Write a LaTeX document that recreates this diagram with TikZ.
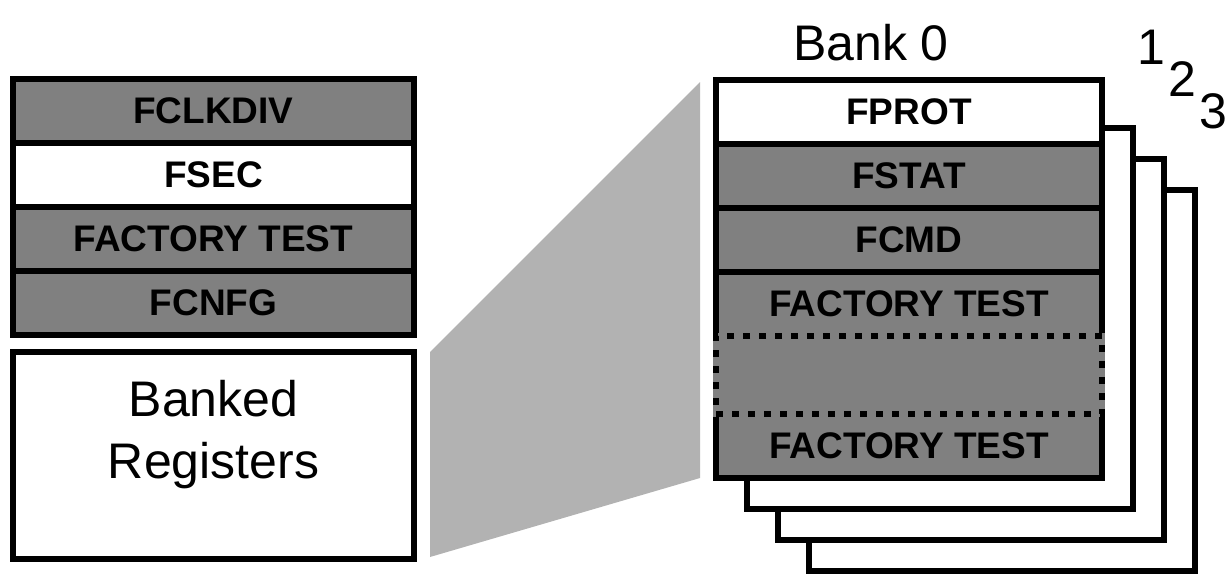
\documentclass[tikz,border=0pt]{standalone}
\usepackage{fontspec}
\setmainfont{Liberation Sans}
\usetikzlibrary{positioning}

\begin{document}
\begin{tikzpicture}[x=1pt,y=-1pt,
    reg/.style={draw,line width=6.5pt,outer sep=0pt,inner sep=0pt,minimum height=64pt,font=\fontsize{37}{40}\selectfont\bfseries},
    lreg/.style={reg,minimum width=401pt},
    rreg/.style={reg,minimum width=386pt},
    gaprow/.style={rreg,minimum height=78pt,fill=gray,dash pattern=on 7pt off 9pt,preaction={draw=gray,solid}},
    bankback/.style={draw,line width=6.5pt,fill=white,minimum width=386pt,minimum height=381pt},
    bignum/.style={inner sep=0pt,font=\fontsize{50}{62}\selectfont}]
  \useasboundingbox (0,0) rectangle (1232,574);
  % left register stack
  \node[lreg,fill=gray] (clkdiv) at (213.5,111) {FCLKDIV};
  \node[lreg,fill=white,below=0pt of clkdiv] (fsec) {FSEC};
  \node[lreg,fill=gray,below=0pt of fsec] (ftest) {FACTORY TEST};
  \node[lreg,fill=gray,below=0pt of ftest] (fcnfg) {FCNFG};
  \node[draw,line width=6.5pt,outer sep=0pt,minimum width=401pt,minimum height=207pt,below=17pt of fcnfg] (banked) {};
  \node[bignum,align=center,below=28pt of banked.north] (bankedtxt) {Banked\\Registers};
  % zoom wedge
  \fill[gray!60] (430,352) -- (700,82) -- (700,478) -- (430,557) -- cycle;
  % banks behind
  \foreach \i in {3,2,1} {
    \node[bankback] (bank\i) at (909+31*\i,287.5+31*\i) {};
    \node[bignum] (num\i) at (1120+31*\i,15+32*\i) {\i};
  }
  % bank 0
  \node[rreg,fill=white] (fprot) at (909,112) {FPROT};
  \node[rreg,fill=gray,below=0pt of fprot] (fstat) {FSTAT};
  \node[rreg,fill=gray,below=0pt of fstat] (fcmd) {FCMD};
  \node[rreg,fill=gray,below=0pt of fcmd] (ftesta) {FACTORY TEST};
  \node[rreg,fill=gray,below=78pt of ftesta] (ftestb) {FACTORY TEST};
  \node[gaprow,below=0pt of ftesta] (resv) {};
  \node[bignum,above=19pt of fprot,xshift=-38pt] (bank0) {Bank 0};
\end{tikzpicture}
\end{document}
